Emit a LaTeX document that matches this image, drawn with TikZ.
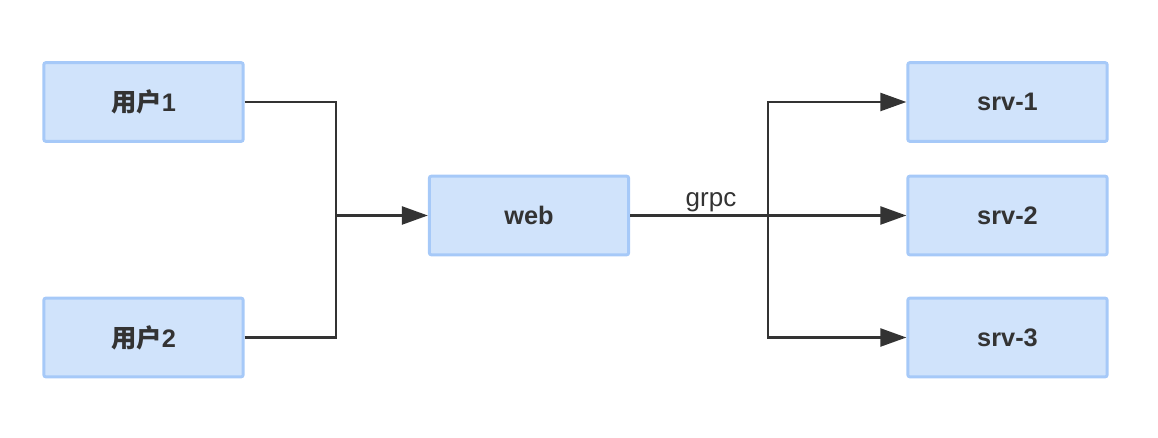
\documentclass[tikz,border=0pt]{standalone}
\usepackage{fontspec}
\setmainfont{Liberation Sans}
\newfontfamily\cjk{Noto Sans CJK SC}
\usetikzlibrary{arrows.meta}
\definecolor{boxfill}{HTML}{D0E3FB}
\definecolor{boxline}{HTML}{A6C9F8}
\definecolor{linec}{HTML}{333333}
\begin{document}
\begin{tikzpicture}[x=0.75pt,y=-0.75pt,
  box/.style={draw=boxline,fill=boxfill,line width=2.2pt,rounded corners=1.5pt,
    minimum width=149.5pt,minimum height=59pt,inner sep=0pt,
    font=\fontsize{19}{22}\selectfont\bfseries,text=linec},
  conn/.style={draw=linec,line width=1.8pt},
  arr/.style={conn,-{Triangle[length=19.5pt,width=13.5pt]}}]
\useasboundingbox (0,0) rectangle (1158,438);
\node[box] (u1) at (143.5,102) {{\cjk 用户}1};
\node[box] (u2) at (143.5,337.5) {{\cjk 用户}2};
\node[box] (web) at (529,215.5) {web};
\node[box] (s1) at (1007.5,102) {srv-1};
\node[box] (s2) at (1007.5,215.5) {srv-2};
\node[box] (s3) at (1007.5,337.5) {srv-3};
\coordinate (j1) at (336,215.5);
\coordinate (j2) at (768,215.5);
\draw[conn] (u1.east) -| (j1);
\draw[conn] (u2.east) -| (j1);
\draw[arr] (j1) -- (web.west);
\draw[conn] (web.east) -- (j2);
\node[anchor=base,inner sep=0pt,font=\fontsize{19.5}{22}\selectfont,text=linec] (lbl) at (711,207) {grpc};
\draw[arr] (j2) |- (s1.west);
\draw[arr] (j2) -- (s2.west);
\draw[arr] (j2) |- (s3.west);
\end{tikzpicture}
\end{document}
